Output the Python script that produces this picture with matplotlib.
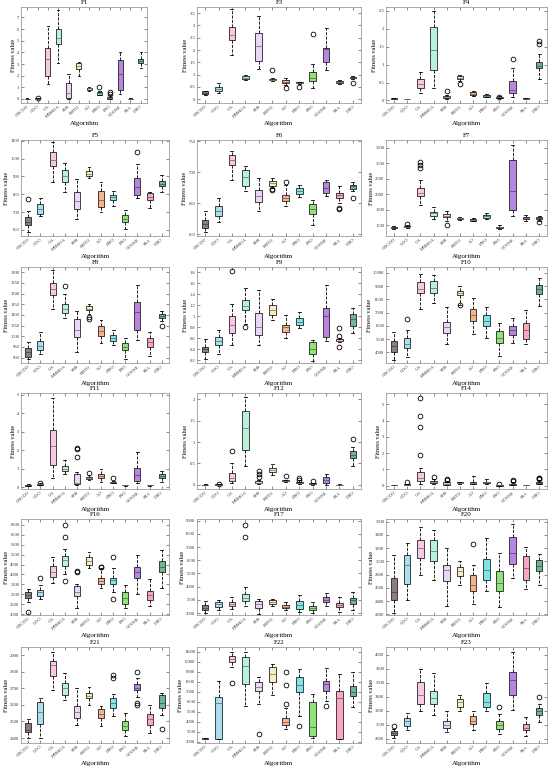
import matplotlib
matplotlib.use("Agg")
import matplotlib.pyplot as plt
import matplotlib.colors as mcolors
from matplotlib.ticker import MultipleLocator, FuncFormatter

plt.rcParams['font.family'] = ['Liberation Serif', 'DejaVu Serif']

algorithms = ['CRCDO', 'CDO', 'GA', 'MBMOA', 'SHS', 'RBTO', 'AO', 'HHO',
              'PSO', 'GOOSE', 'SSA', 'DBO']
box_colors = ['#8f7d7d', '#a8e0f0', '#f8c8e4', '#b9f2d9', '#ecd6f5', '#fbebc5',
              '#f7b28f', '#80e5e5', '#90e27a', '#b886e0', '#f7a8c0', '#6eb592']

# each row: [lower whisker, q1, median, q3, upper whisker] per algorithm
F1_stats = [[0.0, 0.01, 0.02, 0.03, 0.04], [0.0, 0.01, 0.02, 0.04, 0.05],
            [1.25, 1.95, 3.45, 4.4, 6.25], [3.1, 4.7, 5.25, 6.05, 7.6],
            [0.0, 0.1, 0.55, 1.4, 2.1], [2.0, 2.6, 2.8, 3.1, 3.2],
            [0.7, 0.75, 0.9, 0.97, 1.0], [0.3, 0.35, 0.5, 0.6, 0.7],
            [0.0, 0.02, 0.07, 0.15, 0.3], [0.4, 0.75, 2.1, 3.35, 4.0],
            [0.0, 0.01, 0.02, 0.03, 0.04], [2.7, 3.05, 3.3, 3.45, 4.0]]
F1_out = [[], [0.05], [], [], [], [], [], [1.0], [0.45, 0.6], [], [], []]

F3_stats = [[0.18, 0.22, 0.27, 0.32, 0.35], [0.25, 0.33, 0.4, 0.5, 0.65],
            [1.8, 2.4, 2.6, 2.95, 3.65], [0.8, 0.82, 0.88, 0.95, 0.97],
            [1.25, 1.55, 2.15, 2.7, 3.4], [0.75, 0.78, 0.8, 0.83, 0.85],
            [0.6, 0.65, 0.72, 0.78, 0.85], [0.62, 0.65, 0.67, 0.7, 0.72],
            [0.45, 0.75, 0.88, 1.1, 1.45], [1.2, 1.5, 2.05, 2.1, 2.9],
            [0.62, 0.65, 0.7, 0.75, 0.78], [0.82, 0.85, 0.88, 0.92, 0.95]]
F3_out = [[], [], [], [], [], [1.2], [0.45], [0.52], [2.65], [], [], [0.65]]

F4_stats = [[0.03, 0.04, 0.05, 0.06, 0.08], [0.045, 0.05, 0.05, 0.05, 0.055],
            [0.2, 0.35, 0.45, 0.6, 0.78], [0.35, 0.85, 1.4, 2.03, 2.5],
            [0.05, 0.07, 0.1, 0.13, 0.15], [0.55, 0.6, 0.62, 0.68, 0.7],
            [0.12, 0.15, 0.19, 0.23, 0.27], [0.1, 0.11, 0.13, 0.15, 0.17],
            [0.06, 0.07, 0.09, 0.1, 0.12], [0.1, 0.2, 0.3, 0.55, 0.9],
            [0.03, 0.04, 0.05, 0.06, 0.07], [0.6, 0.9, 0.97, 1.08, 1.3]]
F4_out = [[], [], [], [], [0.25], [0.47], [], [], [0.11], [1.15], [], [1.58, 1.65]]

F5_stats = [[585, 625, 645, 670, 705], [680, 690, 715, 745, 780],
            [870, 960, 995, 1040, 1095], [810, 870, 905, 935, 975],
            [660, 715, 760, 815, 885], [890, 900, 915, 930, 955],
            [700, 730, 765, 820, 870], [735, 770, 785, 795, 820],
            [605, 645, 660, 685, 710], [780, 795, 840, 890, 970],
            [720, 765, 785, 805, 815], [810, 845, 860, 875, 910]]
F5_out = [[775], [], [], [], [], [], [], [], [], [1040], [], []]

F6_stats = [[603, 610, 617, 623, 637], [620, 630, 637, 645, 658],
            [688, 712, 720, 728, 735], [670, 678, 692, 703, 710],
            [638, 652, 662, 672, 690], [675, 678, 682, 685, 690],
            [646, 654, 659, 664, 680], [660, 665, 670, 674, 680],
            [615, 632, 641, 648, 655], [662, 667, 675, 684, 688],
            [650, 658, 663, 666, 678], [670, 673, 677, 680, 684]]
F6_out = [[], [], [], [], [], [671, 673], [684], [], [], [], [640, 643], [658]]

F7_stats = [[880, 900, 915, 930, 960], [910, 930, 950, 980, 1010],
            [1650, 1950, 2050, 2200, 2450], [1200, 1300, 1380, 1430, 1600],
            [1150, 1250, 1300, 1350, 1450], [1170, 1200, 1220, 1240, 1270],
            [1120, 1150, 1180, 1200, 1240], [1200, 1240, 1280, 1320, 1380],
            [880, 900, 930, 950, 990], [1300, 1500, 2100, 3100, 3600],
            [1150, 1200, 1230, 1260, 1320], [1150, 1190, 1220, 1250, 1280]]
F7_out = [[], [1040], [2850, 2950, 3050], [], [1020], [], [], [], [], [], [], [1100]]

F8_stats = [[895, 905, 925, 945, 975], [915, 935, 955, 980, 1020],
            [1130, 1195, 1220, 1250, 1310], [1085, 1110, 1130, 1150, 1200],
            [925, 995, 1030, 1080, 1120], [1105, 1125, 1130, 1140, 1150],
            [970, 1000, 1025, 1050, 1075], [960, 980, 990, 1005, 1030],
            [895, 935, 950, 970, 990], [985, 1030, 1115, 1160, 1240],
            [910, 950, 975, 990, 1020], [1070, 1085, 1095, 1105, 1120]]
F8_out = [[], [], [], [1235], [], [1080, 1090], [], [], [], [], [], [1050]]

F9_stats = [[0.22, 0.35, 0.4, 0.45, 0.58], [0.32, 0.47, 0.55, 0.62, 0.75],
            [0.47, 0.7, 0.85, 1.0, 1.23], [0.87, 1.12, 1.18, 1.3, 1.52],
            [0.48, 0.66, 0.8, 1.06, 1.48], [0.93, 1.03, 1.12, 1.2, 1.32],
            [0.6, 0.72, 0.8, 0.85, 1.03], [0.78, 0.85, 0.9, 0.97, 1.08],
            [0.18, 0.32, 0.4, 0.53, 0.57], [0.56, 0.63, 1.0, 1.15, 1.57],
            [0.54, 0.55, 0.56, 0.58, 0.6], [0.7, 0.82, 0.95, 1.05, 1.15]]
F9_out = [[], [], [1.82], [0.8], [], [], [], [], [], [], [0.45, 0.64, 0.79], []]

F10_stats = [[3450, 4050, 4500, 4850, 5550], [3650, 4300, 4600, 5100, 5700],
             [7300, 8500, 8800, 9300, 9900], [7700, 8500, 8900, 9400, 9850],
             [4600, 5500, 5900, 6300, 7400], [7600, 8300, 8450, 8600, 9000],
             [5400, 6400, 6800, 7300, 8100], [5100, 6000, 6400, 6800, 7400],
             [3700, 4700, 5100, 5600, 6200], [4700, 5300, 5700, 6000, 6600],
             [4600, 5000, 5700, 6200, 7200], [7500, 8400, 8800, 9100, 9600]]
F10_out = [[], [6550], [], [], [], [7550], [], [], [], [], [], []]

F11_stats = [[0.05, 0.08, 0.1, 0.13, 0.16], [0.1, 0.12, 0.15, 0.18, 0.2],
             [0.5, 1.2, 2.25, 3.1, 4.85], [0.7, 0.9, 1.0, 1.15, 1.45],
             [0.1, 0.15, 0.2, 0.7, 0.8], [0.4, 0.45, 0.5, 0.55, 0.65],
             [0.3, 0.5, 0.6, 0.72, 1.0], [0.2, 0.25, 0.28, 0.3, 0.35],
             [0.08, 0.09, 0.1, 0.11, 0.12], [0.2, 0.35, 0.65, 1.05, 1.9],
             [0.08, 0.09, 0.1, 0.11, 0.12], [0.3, 0.5, 0.6, 0.7, 0.9]]
F11_out = [[], [0.25], [], [], [1.65, 2.05, 2.1], [0.78], [], [0.48], [], [], [], []]

F12_stats = [[0.0, 0.0, 0.0, 0.005, 0.01], [0.0, 0.0, 0.005, 0.01, 0.015],
             [0.05, 0.08, 0.15, 0.28, 0.5], [0.45, 0.82, 1.33, 1.72, 2.05],
             [0.02, 0.03, 0.05, 0.08, 0.1], [0.22, 0.3, 0.35, 0.4, 0.48],
             [0.07, 0.08, 0.09, 0.1, 0.12], [0.02, 0.03, 0.05, 0.07, 0.1],
             [0.0, 0.01, 0.02, 0.03, 0.05], [0.0, 0.05, 0.1, 0.18, 0.25],
             [0.0, 0.0, 0.0, 0.005, 0.01], [0.43, 0.63, 0.7, 0.78, 0.88]]
F12_out = [[], [0.02], [0.78], [], [0.18, 0.25, 0.33], [], [0.2], [0.12, 0.15], [0.08], [], [], [1.07]]

F14_stats = [[0.02, 0.03, 0.04, 0.05, 0.06], [0.03, 0.05, 0.07, 0.1, 0.12],
             [0.1, 0.3, 0.5, 0.85, 1.1], [0.1, 0.15, 0.2, 0.28, 0.4],
             [0.03, 0.06, 0.1, 0.2, 0.3], [0.12, 0.14, 0.16, 0.2, 0.22],
             [0.1, 0.12, 0.18, 0.25, 0.6], [0.1, 0.15, 0.2, 0.25, 0.4],
             [0.0, 0.01, 0.02, 0.03, 0.05], [0.03, 0.05, 0.08, 0.1, 0.2],
             [0.02, 0.025, 0.03, 0.035, 0.04], [0.08, 0.1, 0.15, 0.2, 0.35]]
F14_out = [[], [0.2], [1.9, 3.6, 4.3, 5.4], [0.55], [0.35, 0.4], [], [], [], [0.08], [0.3, 0.35], [], [0.4, 0.45, 0.5]]

F16_stats = [[2600, 2800, 2950, 3100, 3250], [2750, 2900, 3100, 3200, 3450],
             [3550, 3850, 4100, 4450, 4900], [4000, 4450, 4750, 4950, 5300],
             [2300, 2900, 3100, 3400, 3500], [4300, 4500, 4700, 4900, 5150],
             [3300, 3500, 3650, 3800, 4300], [3100, 3500, 3700, 3800, 4300],
             [2300, 2500, 2800, 3100, 3450], [3000, 3800, 4100, 4400, 5000],
             [2400, 2700, 2950, 3150, 3750], [3300, 4100, 4350, 4700, 5250]]
F16_out = [[2100], [3800], [], [3650, 5900, 6500], [4100, 4150], [], [4350, 4400], [2750, 4900], [], [], [], []]

F17_stats = [[2000, 2250, 2400, 2600, 2900], [2250, 2450, 2650, 2850, 3000],
             [2300, 2550, 2700, 2850, 3250], [2500, 2900, 3150, 3450, 4000],
             [1950, 2400, 2700, 2900, 3100], [2550, 2650, 2800, 2950, 3100],
             [2200, 2350, 2450, 2600, 2800], [2100, 2300, 2600, 2900, 3350],
             [2000, 2200, 2350, 2500, 2800], [2550, 2800, 3000, 3200, 3500],
             [2100, 2450, 2600, 2750, 3200], [2250, 2700, 2950, 3150, 3600]]
F17_out = [[], [], [], [7800, 8700], [], [], [], [], [], [], [], []]

F20_stats = [[2220, 2420, 2530, 2750, 3100], [2420, 2660, 2950, 3100, 3270],
             [2800, 3050, 3200, 3320, 3520], [2720, 3000, 3150, 3320, 3480],
             [2330, 2700, 2870, 2950, 3200], [2650, 2780, 2850, 2920, 3000],
             [2350, 2560, 2650, 2800, 2950], [2560, 2720, 2870, 3040, 3360],
             [2310, 2550, 2680, 2860, 3120], [2750, 2960, 3120, 3370, 3560],
             [2590, 2720, 2900, 3080, 3220], [2650, 2850, 2930, 3020, 3110]]
F20_out = [[], [], [], [], [], [], [3260], [], [], [], [], []]

F21_stats = [[2400, 2435, 2450, 2490, 2515], [2400, 2485, 2560, 2615, 2640],
             [2690, 2775, 2840, 2865, 2920], [2630, 2660, 2700, 2735, 2790],
             [2480, 2520, 2560, 2595, 2700], [2600, 2640, 2655, 2670, 2710],
             [2470, 2520, 2545, 2575, 2595], [2535, 2580, 2610, 2640, 2665],
             [2410, 2450, 2470, 2500, 2550], [2650, 2690, 2705, 2725, 2760],
             [2430, 2480, 2515, 2545, 2600], [2540, 2580, 2610, 2660, 2675]]
F21_out = [[], [], [], [], [], [], [], [2765, 2780], [], [2600, 2610, 2800], [], [2455]]

F22_stats = [[2300, 2300, 2300, 2310, 2320], [2300, 2300, 5900, 6500, 8100],
             [9500, 10000, 10300, 10600, 11000], [5600, 7800, 9600, 10500, 11000],
             [5800, 7100, 7500, 8000, 8500], [6700, 8000, 8800, 9500, 9800],
             [3300, 3700, 4000, 4400, 5400], [4600, 7000, 7700, 8500, 9300],
             [2400, 2600, 3500, 6000, 6800], [6100, 7100, 7800, 8100, 9400],
             [2300, 2300, 6400, 7100, 8800], [5500, 6600, 7000, 7600, 9000]]
F22_out = [[], [], [7900], [], [2800], [], [5800, 7700, 9000], [3600], [], [5600], [], []]

F23_stats = [[2810, 2850, 2880, 2910, 2940], [2920, 2980, 3050, 3090, 3170],
             [3200, 3300, 3420, 3610, 3790], [3140, 3290, 3380, 3480, 3740],
             [2890, 2950, 3000, 3050, 3200], [3190, 3250, 3320, 3370, 3420],
             [2930, 3010, 3060, 3120, 3190], [3190, 3260, 3330, 3460, 3590],
             [2870, 2940, 2990, 3050, 3160], [3210, 3430, 3640, 3760, 4040],
             [2840, 2920, 2960, 3010, 3110], [3040, 3140, 3190, 3240, 3290]]
F23_out = [[2985], [], [], [], [], [], [], [], [3260], [], [], [3390]]

panels = [
    ('F1', F1_stats, F1_out, (-0.35, 7.9), 1),
    ('F3', F3_stats, F3_out, (-0.15, 3.75), 0.5),
    ('F4', F4_stats, F4_out, (-0.07, 2.6), 0.5),
    ('F5', F5_stats, F5_out, (565, 1105), 100),
    ('F6', F6_stats, F6_out, (597, 752), 50),
    ('F7', F7_stats, F7_out, (650, 3750), 500),
    ('F8', F8_stats, F8_out, (875, 1325), 50),
    ('F9', F9_stats, F9_out, (0.15, 1.9), 0.2),
    ('F10', F10_stats, F10_out, (3200, 10450), 1000),
    ('F11', F11_stats, F11_out, (-0.1, 5.1), 1),
    ('F12', F12_stats, F12_out, (-0.1, 2.15), 0.5),
    ('F14', F14_stats, F14_out, (-0.2, 5.7), 1),
    ('F16', F16_stats, F16_out, (1950, 6800), 500),
    ('F17', F17_stats, F17_out, (1850, 9130), 1000),
    ('F20', F20_stats, F20_out, (2190, 3640), 200),
    ('F21', F21_stats, F21_out, (2370, 2950), 100),
    ('F22', F22_stats, F22_out, (1850, 11500), 1000),
    ('F23', F23_stats, F23_out, (2740, 4110), 200),
]

W, H = 550, 767
fig = plt.figure(figsize=(W / 100, H / 100), dpi=100)

row_top = [7, 140, 267, 393, 519, 647]
row_h = 96
col_x = [(21, 169), (197, 361), (386, 547)]


def darker(c, f=0.55):
    r, g, b = mcolors.to_rgb(c)
    return (r * f, g * f, b * f)


for k, (name, stats, outs, ylim, step) in enumerate(panels):
    r, c = divmod(k, 3)
    x0, x1 = col_x[c]
    if name == 'F1':
        x1 = 147
    top = row_top[r]
    ax = fig.add_axes([x0 / W, 1 - (top + row_h) / H, (x1 - x0) / W, row_h / H])

    bx = []
    for s, o in zip(stats, outs):
        bx.append(dict(whislo=s[0], q1=s[1], med=s[2], q3=s[3], whishi=s[4], fliers=o))
    res = ax.bxp(bx, positions=range(1, 13), widths=0.5, patch_artist=True,
                 capwidths=0.22,
                 boxprops=dict(linewidth=0.6, edgecolor='#222222'),
                 whiskerprops=dict(linestyle='--', linewidth=0.6, color='black'),
                 capprops=dict(linewidth=0.6, color='black'),
                 flierprops=dict(marker='o', markersize=3.4, markerfacecolor='none',
                                 markeredgecolor='black', markeredgewidth=0.6),
                 medianprops=dict(linewidth=0.6))
    for i, patch in enumerate(res['boxes']):
        patch.set_facecolor(box_colors[i])
        res['medians'][i].set_color(darker(box_colors[i]))

    ax.set_xlim(0.4, 12.6)
    ax.set_ylim(*ylim)
    ax.yaxis.set_major_locator(MultipleLocator(step))
    ax.yaxis.set_major_formatter(FuncFormatter(lambda v, p: '%g' % round(v, 6)))
    ax.set_xticks(range(1, 13))
    ax.set_xticklabels(algorithms, rotation=40, ha='right', rotation_mode='anchor')
    ax.tick_params(direction='in', top=True, right=True, length=2, width=0.4,
                   labelsize=3.3, pad=1.2, colors='#333333')
    for sp in ax.spines.values():
        sp.set_linewidth(0.5)
        sp.set_color('#888888')
    ax.set_title(name, fontsize=5, pad=2)
    ax.set_xlabel('Algorithm', fontsize=5, labelpad=1)
    ax.set_ylabel('Fitness value', fontsize=4.5, labelpad=1)

fig.savefig('out.png', dpi=100)
